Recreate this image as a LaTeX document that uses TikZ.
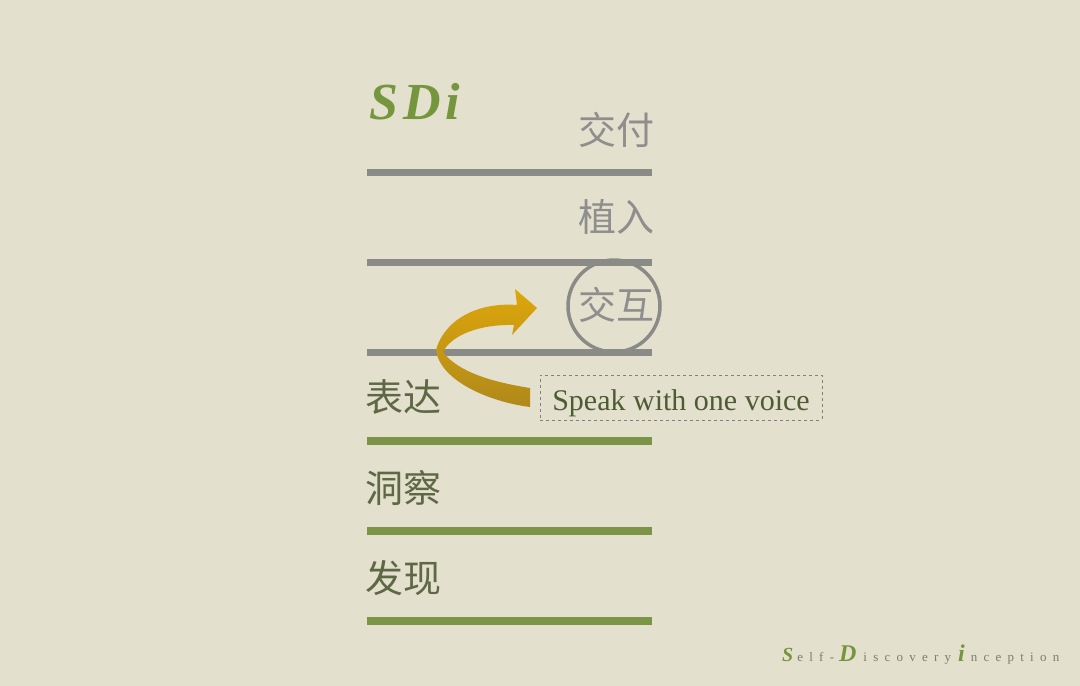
\documentclass[tikz,border=0pt]{standalone}
\usepackage{fontspec}
\setmainfont{Liberation Serif}
\newfontfamily\cjk{Noto Sans CJK SC}
\newfontfamily\spaced[LetterSpace=48]{Liberation Serif}
\usetikzlibrary{positioning}
\definecolor{bgbeige}{HTML}{E3E0CD}
\definecolor{linegray}{HTML}{8A8A86}
\definecolor{linegreen}{HTML}{7B9445}
\definecolor{sdigreen}{HTML}{76963E}
\definecolor{textgray}{HTML}{8E8E8C}
\definecolor{textolive}{HTML}{5E6845}
\definecolor{speakolive}{HTML}{4F5B35}
\definecolor{brandgray}{HTML}{7A7F66}
\definecolor{arrowlight}{HTML}{DDA60A}
\definecolor{arrowdark}{HTML}{B0891A}
\newcommand\brandcap[2][20]{{\color{sdigreen}\fontsize{#1}{#1}\selectfont\bfseries\itshape #2}}
\newcommand\brandrest[1]{{\spaced\color{brandgray}\fontsize{13}{13}\selectfont #1}}

\begin{document}
\begin{tikzpicture}[
    x=1pt, y=-1pt,
    every node/.style={inner sep=0pt},
    grayline/.style={line width=7pt, draw=linegray},
    greenline/.style={line width=8pt, draw=linegreen},
    upperlabel/.style={font=\cjk\fontsize{38}{38}\selectfont, text=textgray, anchor=east},
    lowerlabel/.style={font=\cjk\fontsize{38}{38}\selectfont, text=textolive, anchor=west},
    ring/.style={circle, draw=linegray, line width=3.5pt, minimum size=92pt},
    note/.style={draw=gray, dashed, thin, inner xsep=12pt, inner ysep=0pt, text height=35pt, text depth=10pt, text=speakolive, font=\fontsize{30}{30}\selectfont}
]
\fill[bgbeige] (0,0) rectangle (1080,686);
\useasboundingbox (0,0) rectangle (1080,686);

% title
\node[anchor=base west, text=sdigreen, font=\fontsize{52}{52}\selectfont\bfseries\itshape] (title) at (369,119) {S\kern5ptD\kern5pti};

% levels
\draw[grayline] (367,172) -- (652,172);
\draw[grayline] (367,262) -- (652,262);
\draw[grayline] (367,352) -- (652,352);
\draw[greenline] (367,441) -- (652,441);
\draw[greenline] (367,531) -- (652,531);
\draw[greenline] (367,621) -- (652,621);

\node[upperlabel] (deliver) at (655,130) {交付};
\node[upperlabel] (implant) at (655,217) {植入};
\node[upperlabel] (interact) at (655,305) {交互};
\node[ring] (focus) at (614,306) {};
\node[lowerlabel] (express) at (365,397) {表达};
\node[lowerlabel] (insight) at (365,488) {洞察};
\node[lowerlabel] (discover) at (365,578) {发现};

\node[note] (voice) at (681,397.5) {Speak with one voice};

% curved arrow
\shade[top color=arrowlight, bottom color=arrowdark]
  (530,388) .. controls (492,382) and (458,372) .. (443,352)
  .. controls (452,334) and (482,324) .. (514,325)
  -- (512,335) -- (537,308) -- (515,289) -- (517,305)
  .. controls (480,302) and (445,318) .. (436,350)
  .. controls (440,381) and (490,402) .. (530,407) -- cycle;

% brand
\node[anchor=base west] (brand) at (782,661) {\brandcap{S}\kern4pt\brandrest{elf-}\kern5pt\brandcap[24]{D}\kern7pt\brandrest{iscovery}\kern7pt\brandcap[24]{i}\kern6pt\brandrest{nception}};
\end{tikzpicture}
\end{document}
